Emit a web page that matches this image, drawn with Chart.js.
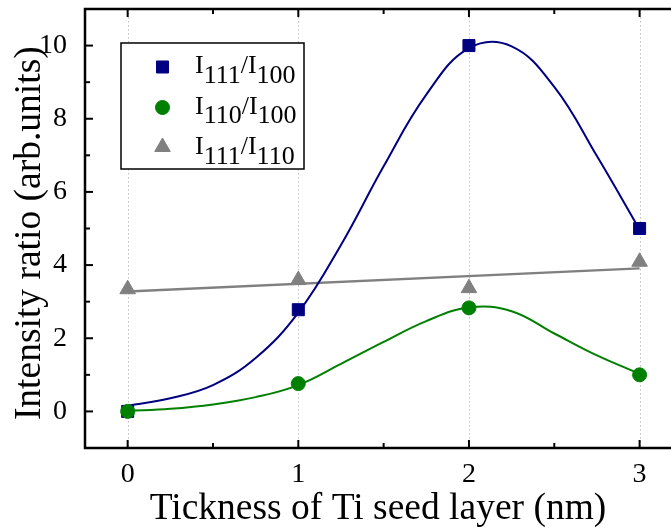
<!DOCTYPE html>
<html>
<head>
<meta charset="utf-8">
<script src="https://cdn.jsdelivr.net/npm/chart.js@4/dist/chart.umd.min.js"></script>
<style>
  html, body { margin: 0; padding: 0; background: #fff; overflow: hidden; }
  #wrap { width: 671px; height: 531px; position: relative; }
</style>
</head>
<body>
<div id="wrap"><canvas id="chart"></canvas></div>
<script>
// measured points
const thickness = [0, 1, 2, 3];
const r111_100 = [0, 2.78, 10, 5];
const r110_100 = [0, 0.76, 2.83, 1.0];
const r111_110 = [3.34, 3.59, 3.37, 4.09];

// fitted curves
const fitX = [0, 0.25, 0.5, 0.75, 1, 1.25, 1.5, 1.75, 2, 2.25, 2.5, 2.75, 3];
const fit111_100 = [0.16, 0.36, 0.72, 1.46, 2.7, 4.55, 6.7, 8.66, 9.93, 9.98, 8.87, 6.98, 4.97];
const fit110_100 = [0.01, 0.07, 0.19, 0.39, 0.72, 1.3, 1.9, 2.47, 2.84, 2.74, 2.13, 1.53, 1.03];
const lineX = [0, 3];
const fit111_110 = [3.28, 3.91];

const seriesNames = ['I_111/I_100', 'I_110/I_100', 'I_111/I_110'];
const xMajor = [0, 1, 2, 3];
const xMinor = [0.5, 1.5, 2.5];
const yMajor = [0, 2, 4, 6, 8, 10];
const yMinor = [1, 3, 5, 7, 9];

const navy = '#000080', green = '#008000', gray = '#808080';
const serif = "'Liberation Serif', 'Times New Roman', serif";

const pts = (xs, ys) => xs.map((v, i) => ({x: v, y: ys[i]}));

const markers = [
  {style: 'rect', radius: 8.5, color: navy},
  {style: 'circle', radius: 7, color: green},
  {style: 'triangle', radius: 9, color: gray}
];

const noPad = s => { s.paddingTop = 0; s.paddingBottom = 0; s.paddingLeft = 0; s.paddingRight = 0; };

const framePlugin = {
  id: 'frame',
  beforeDatasetsDraw(chart) {
    const {ctx, chartArea: a, scales: {x}} = chart;
    ctx.save();
    ctx.strokeStyle = '#bdbdbd';
    ctx.lineWidth = 1;
    ctx.setLineDash([1.5, 2.5]);
    xMajor.forEach(v => {
      const px = Math.round(x.getPixelForValue(v)) + 0.5;
      ctx.beginPath(); ctx.moveTo(px, a.top); ctx.lineTo(px, a.bottom); ctx.stroke();
    });
    ctx.restore();
  },
  afterDraw(chart) {
    const {ctx, chartArea: a, scales: {x, y}} = chart;
    ctx.save();
    ctx.strokeStyle = '#000';
    ctx.lineWidth = 2.5;
    ctx.beginPath();
    ctx.moveTo(a.right + 2, a.top); ctx.lineTo(a.left, a.top);
    ctx.lineTo(a.left, a.bottom); ctx.lineTo(a.right + 2, a.bottom);
    ctx.stroke();
    ctx.lineWidth = 2;
    const tick = (vals, len) => {
      vals.forEach(v => {
        const px = x.getPixelForValue(v);
        ctx.beginPath(); ctx.moveTo(px, a.bottom); ctx.lineTo(px, a.bottom - len); ctx.stroke();
        ctx.beginPath(); ctx.moveTo(px, a.top); ctx.lineTo(px, a.top + len); ctx.stroke();
      });
    };
    tick(xMajor, 8); tick(xMinor, 5);
    yMajor.forEach(v => {
      const py = y.getPixelForValue(v);
      ctx.beginPath(); ctx.moveTo(a.left, py); ctx.lineTo(a.left + 8, py); ctx.stroke();
    });
    yMinor.forEach(v => {
      const py = y.getPixelForValue(v);
      ctx.beginPath(); ctx.moveTo(a.left, py); ctx.lineTo(a.left + 5, py); ctx.stroke();
    });

    // legend box
    const bx = 121, by = 43, bw = 183, bh = 126;
    ctx.fillStyle = '#fff';
    ctx.fillRect(bx, by, bw, bh);
    ctx.lineWidth = 1.5;
    ctx.strokeRect(bx, by, bw, bh);
    seriesNames.forEach((name, i) => {
      const base = 73 + i * 40.5;
      const m = markers[i];
      ctx.fillStyle = m.color; ctx.strokeStyle = m.color; ctx.lineWidth = 1;
      Chart.helpers.drawPoint(ctx, {pointStyle: m.style, radius: m.radius, rotation: 0, borderWidth: 1}, 162.5, base - 6 + (i === 2 ? -1 : 0));
      ctx.fillStyle = '#000';
      ctx.font = '26px ' + serif;
      ctx.textBaseline = 'alphabetic';
      ctx.textAlign = 'left';
      let tx = 195;
      name.split(/(_\d+)/).filter(s => s).forEach(part => {
        const sub = part[0] === '_';
        const t = sub ? part.slice(1) : part;
        ctx.fillText(t, tx, sub ? base + 9.5 : base);
        tx += ctx.measureText(t).width;
      });
    });
    ctx.restore();
  }
};

Chart.defaults.font.family = serif;
Chart.defaults.color = '#000';

new Chart(document.getElementById('chart'), {
  type: 'scatter',
  data: {
    datasets: [
      {label: seriesNames[1], data: pts(thickness, r110_100), pointStyle: 'circle', pointRadius: 7,
       backgroundColor: green, borderColor: green, borderWidth: 1, showLine: false},
      {label: seriesNames[0], data: pts(thickness, r111_100), pointStyle: 'rect', pointRadius: 8.5,
       backgroundColor: navy, borderColor: navy, borderWidth: 1, showLine: false},
      {label: seriesNames[2], data: pts(thickness, r111_110), pointStyle: 'triangle', pointRadius: 9,
       backgroundColor: gray, borderColor: gray, borderWidth: 1, showLine: false},
      {label: 'fit1', data: pts(fitX, fit111_100), showLine: true, pointRadius: 0,
       borderColor: navy, borderWidth: 2, tension: 0.4},
      {label: 'fit2', data: pts(fitX, fit110_100), showLine: true, pointRadius: 0,
       borderColor: green, borderWidth: 2, tension: 0.4},
      {label: 'fit3', data: pts(lineX, fit111_110), showLine: true, pointRadius: 0,
       borderColor: gray, borderWidth: 2.5}
    ]
  },
  options: {
    responsive: true,
    maintainAspectRatio: false,
    animation: false,
    layout: {autoPadding: false, padding: {top: 9, right: 0, left: 0, bottom: 0}},
    plugins: {legend: {display: false}, tooltip: {enabled: false}},
    scales: {
      x: {
        type: 'linear', min: -0.25, max: 3.184,
        afterFit: s => { s.height = 83; noPad(s); },
        afterBuildTicks: s => { s.ticks = xMajor.map(v => ({value: v})); },
        grid: {display: false},
        border: {display: false},
        ticks: {padding: 1.5, font: {size: 28}, color: '#000', maxRotation: 0},
        title: {display: true, text: 'Tickness of Ti seed layer (nm)', color: '#000',
                font: {size: 37.5, lineHeight: 1}, padding: {top: 0, bottom: 3}}
      },
      y: {
        type: 'linear', min: -1, max: 11,
        afterFit: s => { s.width = 85; noPad(s); },
        afterBuildTicks: s => { s.ticks = yMajor.map(v => ({value: v})); },
        grid: {display: false},
        border: {display: false},
        ticks: {padding: 10, font: {size: 28}, color: '#000'},
        title: {display: true, text: 'Intensity ratio (arb.units) ', color: '#000',
                font: {size: 37.5, lineHeight: 1}, padding: {top: 11, bottom: 0}}
      }
    }
  },
  plugins: [framePlugin]
});
</script>
</body>
</html>
